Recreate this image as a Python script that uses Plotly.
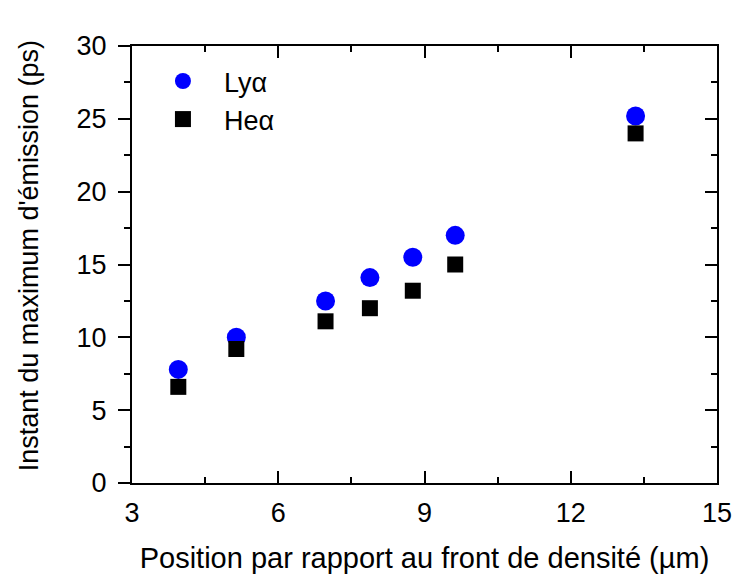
import plotly.graph_objects as go

x_pos = [3.95, 5.14, 6.97, 7.88, 8.76, 9.63, 13.33]
ly_alpha = [7.8, 10.0, 12.5, 14.1, 15.5, 17.0, 25.2]
he_alpha = [6.6, 9.2, 11.1, 12.0, 13.2, 15.0, 24.0]

x_ticks = [3, 6, 9, 12, 15]
y_ticks = [0, 5, 10, 15, 20, 25, 30]

x_title = "Position par rapport au front de densité (µm)"
y_title = "Instant du maximum d'émission (ps)"

FONT = "Liberation Sans, Arial, sans-serif"

fig = go.Figure()
fig.add_trace(go.Scatter(x=x_pos, y=ly_alpha, mode="markers", name="Lyα",
                         marker=dict(symbol="circle", size=19, color="#0000ff", line=dict(width=0))))
fig.add_trace(go.Scatter(x=x_pos, y=he_alpha, mode="markers", name="Heα",
                         marker=dict(symbol="square", size=16, color="#000000", line=dict(width=0))))
# invisible trace for right axis ticks
fig.add_trace(go.Scatter(x=[x_pos[0]], y=[ly_alpha[0]], yaxis="y2", mode="markers",
                         marker=dict(opacity=0), showlegend=False, hoverinfo="skip"))

fig.update_layout(
    width=734, height=566,
    margin=dict(l=124, r=25, t=38, b=91, autoexpand=False),
    plot_bgcolor="white", paper_bgcolor="white",
    font=dict(family=FONT, size=29, color="black"),
    showlegend=True,
    legend=dict(x=0.017, y=0.975, xanchor="left", yanchor="top",
                bgcolor="rgba(0,0,0,0)", font=dict(size=27), itemsizing="trace",
                itemwidth=72, tracegroupgap=0),
    xaxis=dict(range=[3, 15], tickvals=x_ticks, ticks="inside", ticklen=12, tickwidth=2,
               tickcolor="black", showline=True, linewidth=2, linecolor="black", mirror="ticks",
               showgrid=False, zeroline=False, ticklabelstandoff=5, automargin=False,
               minor=dict(dtick=1.5, tick0=3, ticks="inside", ticklen=6, tickwidth=2, tickcolor="black"),
               title=dict(text=x_title, standoff=25, font=dict(size=29)),
               tickfont=dict(size=27)),
    yaxis=dict(range=[0, 30], tickvals=y_ticks, ticks="outside", ticklen=12, tickwidth=2,
               tickcolor="black", showline=True, linewidth=2, linecolor="black", mirror=True,
               showgrid=False, zeroline=False, ticklabelstandoff=6, automargin=False,
               minor=dict(dtick=2.5, tick0=0, ticks="outside", ticklen=6, tickwidth=2, tickcolor="black"),
               tickfont=dict(size=27)),
    yaxis2=dict(range=[0, 30], overlaying="y", side="right", tickvals=y_ticks, ticks="inside",
                ticklen=12, tickwidth=2, tickcolor="black", showticklabels=False,
                showgrid=False, zeroline=False, showline=False, automargin=False,
                minor=dict(dtick=2.5, tick0=0, ticks="inside", ticklen=6, tickwidth=2, tickcolor="black")),
    annotations=[dict(text=y_title, xref="paper", yref="paper", x=-0.177, y=0.52,
                      xanchor="center", yanchor="middle", textangle=-90, showarrow=False,
                      font=dict(size=27, family=FONT, color="black"))],
)

fig.write_html("out.html")
